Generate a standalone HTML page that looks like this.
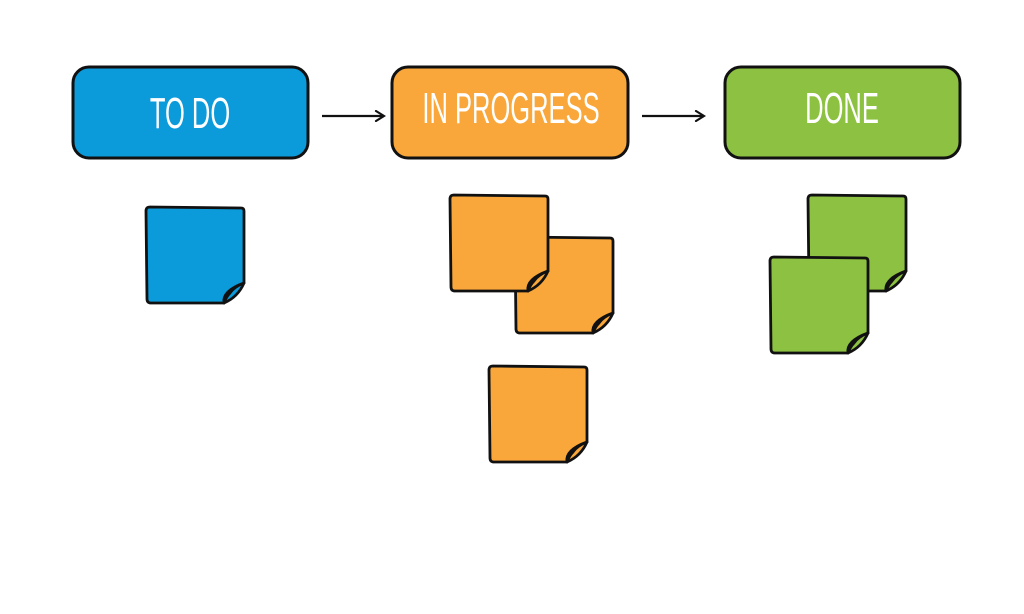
<!DOCTYPE html>
<html><head><style>
body{margin:0;background:#fff;}
svg{display:block}
text{font-family:"Liberation Sans",sans-serif;fill:#fff;}
</style></head><body>
<svg width="1024" height="614" viewBox="0 0 1024 614">
<defs>
<marker id="ah" markerWidth="12" markerHeight="12" refX="10" refY="6" orient="auto" markerUnits="userSpaceOnUse">
<path d="M2,1 L10,6 L2,11" fill="none" stroke="#111" stroke-width="2.2" stroke-linecap="round"/>
</marker>
</defs>
<g stroke="#111" stroke-width="3">
<rect x="73" y="67" width="235" height="91" rx="16" fill="#0b9bdb"/>
<rect x="392" y="67" width="236" height="91" rx="16" fill="#f9a73a"/>
<rect x="725" y="67" width="235" height="91" rx="16" fill="#8dc141"/>
</g>
<g font-size="44" text-anchor="middle">
<text transform="translate(190,128) scale(0.58,1)">TO DO</text>
<text transform="translate(511,123) scale(0.58,1)">IN PROGRESS</text>
<text transform="translate(842,123) scale(0.58,1)">DONE</text>
</g>
<g stroke="#111" stroke-width="2.2" fill="none">
<line x1="322" y1="116" x2="384" y2="116" marker-end="url(#ah)"/>
<line x1="642" y1="116" x2="704" y2="116" marker-end="url(#ah)"/>
</g>
<g stroke="#111" stroke-width="2.8" stroke-linejoin="round">
<g transform="translate(146,207)">
<path d="M4,0 L95,1 Q98,1 98,4 L98,76 Q92,90 78,96 L5,96 Q1,96 1,92 L0,4 Q0,0 4,0Z" fill="#0b9bdb"/>
<path d="M78,96 Q76,84 98,76 Q88,80 84,86 Q80,90 78,96Z" fill="#0a7fb3"/>
</g>
<g transform="translate(515,237)">
<path d="M4,0 L95,1 Q98,1 98,4 L98,76 Q92,90 78,96 L5,96 Q1,96 1,92 L0,4 Q0,0 4,0Z" fill="#f9a73a"/>
<path d="M78,96 Q76,84 98,76 Q88,80 84,86 Q80,90 78,96Z" fill="#d98a25"/>
</g>
<g transform="translate(450,195)">
<path d="M4,0 L95,1 Q98,1 98,4 L98,76 Q92,90 78,96 L5,96 Q1,96 1,92 L0,4 Q0,0 4,0Z" fill="#f9a73a"/>
<path d="M78,96 Q76,84 98,76 Q88,80 84,86 Q80,90 78,96Z" fill="#d98a25"/>
</g>
<g transform="translate(489,366)">
<path d="M4,0 L95,1 Q98,1 98,4 L98,76 Q92,90 78,96 L5,96 Q1,96 1,92 L0,4 Q0,0 4,0Z" fill="#f9a73a"/>
<path d="M78,96 Q76,84 98,76 Q88,80 84,86 Q80,90 78,96Z" fill="#d98a25"/>
</g>
<g transform="translate(808,195)">
<path d="M4,0 L95,1 Q98,1 98,4 L98,76 Q92,90 78,96 L5,96 Q1,96 1,92 L0,4 Q0,0 4,0Z" fill="#8dc141"/>
<path d="M78,96 Q76,84 98,76 Q88,80 84,86 Q80,90 78,96Z" fill="#6f9f2c"/>
</g>
<g transform="translate(770,257)">
<path d="M4,0 L95,1 Q98,1 98,4 L98,76 Q92,90 78,96 L5,96 Q1,96 1,92 L0,4 Q0,0 4,0Z" fill="#8dc141"/>
<path d="M78,96 Q76,84 98,76 Q88,80 84,86 Q80,90 78,96Z" fill="#6f9f2c"/>
</g>
</g>
</svg>
</body></html>
